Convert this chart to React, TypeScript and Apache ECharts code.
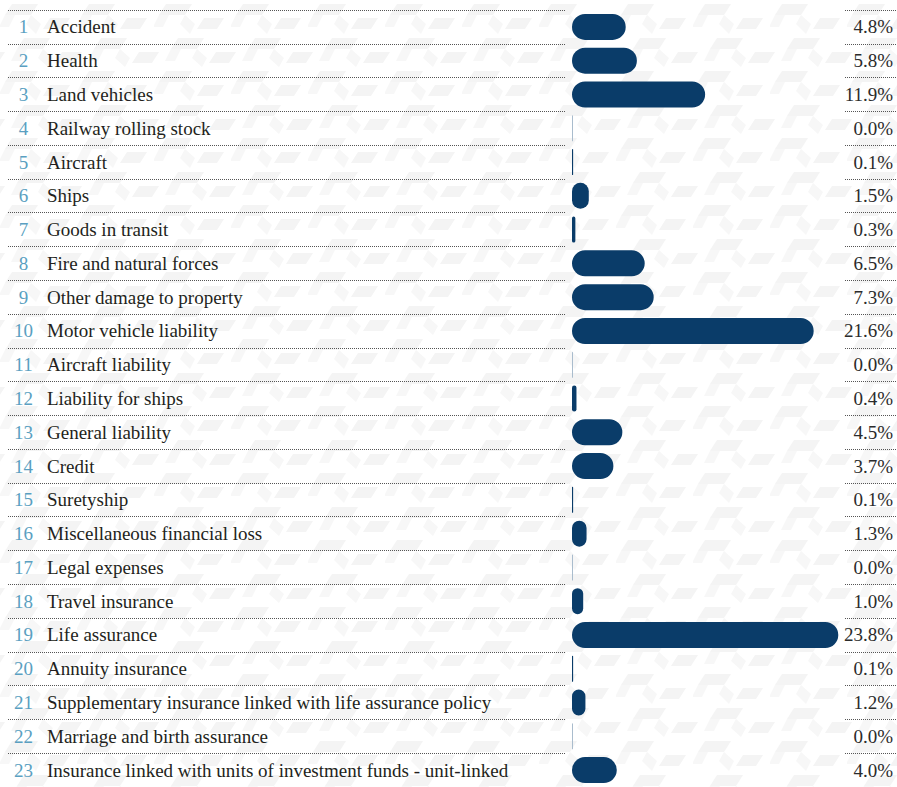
import React, { useEffect, useRef } from "react";
import * as echarts from "echarts";

const categories: string[] = [
  "Accident",
  "Health",
  "Land vehicles",
  "Railway rolling stock",
  "Aircraft",
  "Ships",
  "Goods in transit",
  "Fire and natural forces",
  "Other damage to property",
  "Motor vehicle liability",
  "Aircraft liability",
  "Liability for ships",
  "General liability",
  "Credit",
  "Suretyship",
  "Miscellaneous financial loss",
  "Legal expenses",
  "Travel insurance",
  "Life assurance",
  "Annuity insurance",
  "Supplementary insurance linked with life assurance policy",
  "Marriage and birth assurance",
  "Insurance linked with units of investment funds - unit-linked",
];

const shares: number[] = [
  4.8, 5.8, 11.9, 0.0, 0.1, 1.5, 0.3, 6.5, 7.3, 21.6, 0.0, 0.4, 4.5, 3.7, 0.1,
  1.3, 0.0, 1.0, 23.8, 0.1, 1.2, 0.0, 4.0,
];

const FONT = "'Liberation Serif', 'Times New Roman', serif";

function makePattern(): { url: string; w: number; h: number } {
  const w = 77;
  const h = 67;
  const c = document.createElement("canvas");
  c.width = w;
  c.height = h;
  const ctx = c.getContext("2d");
  if (!ctx) return { url: "", w, h };
  ctx.fillStyle = "#ffffff";
  ctx.fillRect(0, 0, w, h);
  const poly = (pts: number[][], col: string) => {
    ctx.fillStyle = col;
    ctx.beginPath();
    pts.forEach((p, i) => (i ? ctx.lineTo(p[0], p[1]) : ctx.moveTo(p[0], p[1])));
    ctx.closePath();
    ctx.fill();
  };
  const a = "#f4f4f4";
  const b = "#f7f7f7";
  poly([[12, 4], [38, 4], [31, 15], [5, 15]], a);
  poly([[5, 15], [15, 15], [9, 27], [-1, 27]], b);
  poly([[50, 18], [70, 18], [63, 29], [43, 29]], a);
  poly([[24, 38], [50, 38], [43, 49], [17, 49]], a);
  poly([[17, 49], [27, 49], [21, 61], [11, 61]], b);
  poly([[62, 52], [82, 52], [75, 63], [55, 63]], a);
  poly([[-15, 52], [5, 52], [-2, 63], [-22, 63]], a);
  poly([[31, 15], [41, 24], [36, 34], [26, 24]], b);
  poly([[43, 49], [53, 58], [48, 67], [38, 58]], b);
  return { url: c.toDataURL(), w, h };
}

export default function App() {
  const ref = useRef<HTMLDivElement>(null);

  useEffect(() => {
    if (!ref.current) return;
    const chart = echarts.init(ref.current, undefined, { renderer: "svg" });
    const pat = makePattern();
    const top = 10;
    const height = 778;

    const splitLine = {
      show: true,
      lineStyle: { color: "#555555", type: [1, 1] as number[], width: 1 },
    };

    const barData = shares.map((v) => ({
      value: v,
      itemStyle: { color: v === 0 ? "#a9bccd" : "#0a3c69" },
    }));

    chart.setOption({
      animation: false,
      backgroundColor: "#ffffff",
      graphic: [
        {
          type: "rect",
          z: -100,
          silent: true,
          shape: { x: 0, y: 0, width: 897, height: 787 },
          style: {
            fill: {
              image: pat.url,
              repeat: "repeat",
              imageWidth: pat.w,
              imageHeight: pat.h,
            } as any,
          },
        },
      ],
      grid: [
        { left: 8, width: 558, top, height },
        { left: 572, right: 52, top, height },
        { left: 845, right: 0, top, height },
      ],
      xAxis: [
        { type: "value", gridIndex: 0, show: false, min: 0, max: 1 },
        { type: "value", gridIndex: 1, show: false, min: 0, max: 24.4 },
        { type: "value", gridIndex: 2, show: false, min: 0, max: 1 },
      ],
      yAxis: [
        {
          type: "category",
          gridIndex: 0,
          inverse: true,
          data: categories,
          axisLine: { show: false },
          axisTick: { show: false },
          splitLine,
          axisLabel: {
            inside: true,
            margin: 0,
            align: "left",
            formatter: (val: string, idx: number) => `{n|${idx + 1}}{t|${val}}`,
            rich: {
              n: {
                width: 31,
                align: "right",
                color: "#5a9fc1",
                fontFamily: FONT,
                fontSize: 19,
              },
              t: {
                padding: [0, 0, 0, 8],
                color: "#231f20",
                fontFamily: FONT,
                fontSize: 19,
              },
            },
          },
        },
        {
          type: "category",
          gridIndex: 1,
          inverse: true,
          data: categories,
          show: false,
        },
        {
          type: "category",
          gridIndex: 2,
          inverse: true,
          position: "right",
          data: categories,
          axisLine: { show: false },
          axisTick: { show: false },
          splitLine,
          axisLabel: {
            inside: true,
            margin: 4,
            align: "right",
            color: "#2b2b2b",
            fontFamily: FONT,
            fontSize: 19,
            formatter: (_v: string, idx: number) => `${shares[idx].toFixed(1)}%`,
          },
        },
      ],
      series: [
        {
          type: "bar",
          xAxisIndex: 1,
          yAxisIndex: 1,
          data: barData,
          barWidth: 26,
          barMinHeight: 1,
          itemStyle: { borderRadius: 13 },
        },
      ],
    });

    return () => chart.dispose();
  }, []);

  return (
    <div
      ref={ref}
      style={{ position: "absolute", left: 0, top: 0, width: 897, height: 787 }}
    />
  );
}
